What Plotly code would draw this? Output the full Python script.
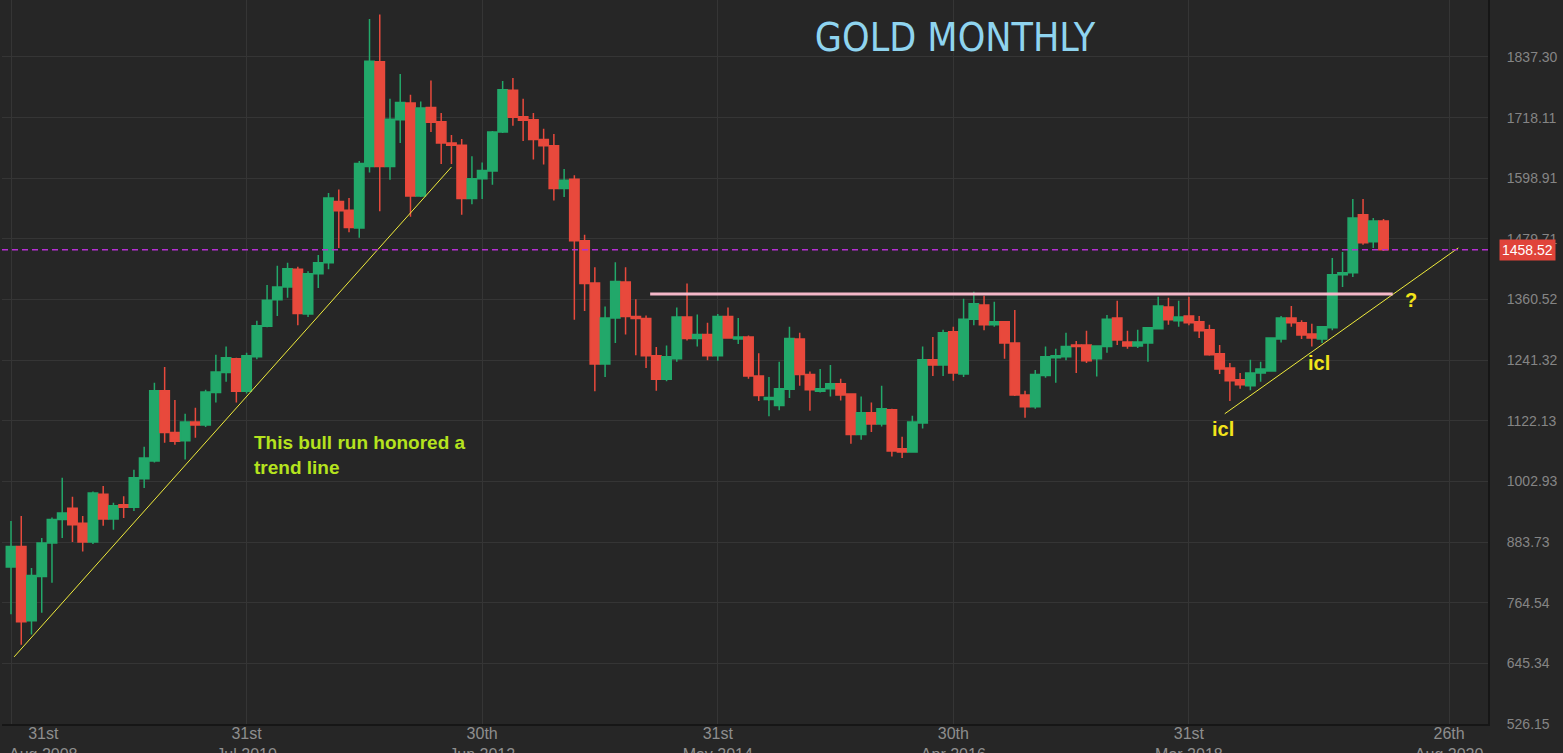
import plotly.graph_objects as go

# monthly gold candles, Sep 2008 .. Nov 2019 (one per month)
open_ = [835, 875, 729, 816, 882, 928, 950, 921, 884, 978, 929, 957, 952, 1008, 1043, 1181, 1099, 1083, 1120, 1114,
         1178, 1217, 1244, 1180, 1248, 1308, 1360, 1385, 1420, 1332, 1411, 1433, 1553, 1536, 1501, 1622, 1828, 1622, 1714, 1747,
         1564, 1738, 1710, 1668, 1664, 1559, 1598, 1613, 1690, 1772, 1720, 1714, 1675, 1663, 1579, 1597, 1476, 1393, 1234, 1324,
         1395, 1327, 1323, 1250, 1204, 1244, 1326, 1284, 1292, 1250, 1327, 1283, 1287, 1210, 1164, 1152, 1184, 1283, 1213, 1180,
         1185, 1195, 1175, 1095, 1138, 1116, 1144, 1067, 1061, 1118, 1242, 1232, 1297, 1214, 1322, 1350, 1311, 1317, 1275, 1173,
         1150, 1211, 1246, 1248, 1271, 1271, 1244, 1268, 1324, 1277, 1269, 1275, 1303, 1346, 1319, 1328, 1317, 1301, 1254, 1226,
         1203, 1191, 1216, 1220, 1283, 1324, 1315, 1293, 1283, 1305, 1409, 1413, 1527, 1474, 1515]
high = [925, 935, 833, 892, 932, 1010, 973, 935, 983, 994, 961, 974, 1026, 1071, 1197, 1228, 1163, 1136, 1148, 1183,
        1252, 1268, 1246, 1256, 1319, 1389, 1427, 1433, 1425, 1416, 1448, 1570, 1577, 1560, 1633, 1912, 1921, 1755, 1804, 1763,
        1750, 1791, 1727, 1684, 1676, 1642, 1630, 1692, 1790, 1796, 1755, 1727, 1696, 1686, 1617, 1605, 1488, 1424, 1347, 1434,
        1424, 1361, 1329, 1267, 1270, 1345, 1392, 1331, 1315, 1332, 1345, 1324, 1290, 1255, 1208, 1238, 1307, 1295, 1219, 1224,
        1232, 1205, 1176, 1170, 1158, 1191, 1146, 1091, 1132, 1268, 1287, 1301, 1307, 1362, 1376, 1368, 1356, 1318, 1340, 1181,
        1222, 1268, 1264, 1295, 1279, 1299, 1270, 1330, 1358, 1299, 1301, 1306, 1366, 1364, 1358, 1366, 1328, 1311, 1271, 1236,
        1216, 1242, 1238, 1285, 1328, 1348, 1320, 1313, 1307, 1442, 1454, 1558, 1558, 1521, 1519]
low = [742, 682, 702, 745, 804, 892, 884, 865, 880, 916, 908, 931, 945, 990, 1040, 1079, 1075, 1046, 1089, 1110,
       1158, 1199, 1158, 1176, 1243, 1306, 1328, 1364, 1310, 1326, 1383, 1420, 1462, 1493, 1482, 1610, 1534, 1596, 1668, 1523,
       1562, 1690, 1627, 1627, 1527, 1548, 1558, 1586, 1688, 1702, 1672, 1636, 1626, 1555, 1562, 1321, 1338, 1180, 1208, 1275,
       1292, 1251, 1226, 1181, 1200, 1238, 1280, 1268, 1241, 1240, 1284, 1273, 1205, 1161, 1131, 1143, 1167, 1191, 1142, 1178,
       1170, 1162, 1077, 1085, 1100, 1111, 1052, 1049, 1061, 1107, 1210, 1210, 1201, 1208, 1310, 1300, 1307, 1244, 1171, 1128,
       1146, 1207, 1197, 1241, 1216, 1236, 1209, 1256, 1271, 1264, 1265, 1238, 1302, 1311, 1307, 1310, 1285, 1250, 1214, 1161,
       1185, 1182, 1199, 1219, 1276, 1307, 1283, 1268, 1275, 1300, 1385, 1405, 1468, 1462, 1456]
close = [875, 727, 818, 882, 928, 941, 918, 884, 980, 929, 955, 952, 1010, 1049, 1181, 1099, 1082, 1120, 1114, 1179,
         1218, 1246, 1180, 1250, 1309, 1359, 1385, 1421, 1333, 1411, 1433, 1560, 1535, 1502, 1628, 1829, 1622, 1715, 1748, 1564,
         1737, 1709, 1668, 1664, 1559, 1598, 1614, 1690, 1773, 1719, 1713, 1675, 1663, 1579, 1595, 1476, 1392, 1234, 1324, 1396,
         1327, 1323, 1250, 1204, 1248, 1326, 1284, 1292, 1250, 1327, 1285, 1287, 1210, 1172, 1168, 1185, 1284, 1213, 1183, 1185,
         1195, 1173, 1095, 1138, 1116, 1146, 1063, 1061, 1120, 1242, 1232, 1295, 1216, 1322, 1352, 1311, 1317, 1275, 1173, 1150,
         1213, 1248, 1250, 1268, 1268, 1240, 1269, 1322, 1281, 1269, 1277, 1305, 1348, 1321, 1326, 1315, 1299, 1252, 1224, 1201,
         1193, 1216, 1224, 1285, 1324, 1315, 1291, 1285, 1307, 1409, 1413, 1521, 1472, 1515, 1458.52]

last_price = 1458.52

# x axis is bar-index based, like the original charting tool
tick_pos = [0, 23, 46, 69, 92, 115, 140.4]
tick_text = ["31st<br>Aug 2008", "31st<br>Jul 2010", "30th<br>Jun 2012", "31st<br>May 2014",
             "30th<br>Apr 2016", "31st<br>Mar 2018", "26th<br>Aug 2020"]
y_ticks = [526.15, 645.34, 764.54, 883.73, 1002.93, 1122.13, 1241.32, 1360.52,
           1479.71, 1598.91, 1718.11, 1837.30]

# drawn analysis lines (bar index, price)
bull_trend_x = [0.3, 43.0]
bull_trend_y = [658, 1621]
icl_trend_x = [118.5, 141.3]
icl_trend_y = [1136, 1462]
resistance_x = [62.4, 134.9]
resistance_y = [1371.6, 1371.6]

BG = "#262626"
GREEN = "#22a86a"
RED = "#e8493c"

x = list(range(len(close)))

fig = go.Figure()

fig.add_trace(go.Candlestick(
    x=x, open=open_, high=high, low=low, close=close,
    increasing=dict(line=dict(color=GREEN, width=1.5), fillcolor=GREEN),
    decreasing=dict(line=dict(color=RED, width=1.5), fillcolor=RED),
    whiskerwidth=0,
    showlegend=False,
))

fig.add_trace(go.Scatter(x=bull_trend_x, y=bull_trend_y, mode="lines",
                         line=dict(color="#f0ec3c", width=1), showlegend=False, hoverinfo="skip"))
fig.add_trace(go.Scatter(x=icl_trend_x, y=icl_trend_y, mode="lines",
                         line=dict(color="#f0ec3c", width=1), showlegend=False, hoverinfo="skip"))
fig.add_trace(go.Scatter(x=resistance_x, y=resistance_y, mode="lines",
                         line=dict(color="#f5b8c9", width=3), showlegend=False, hoverinfo="skip"))

# current price line
fig.add_shape(type="line", xref="paper", x0=0, x1=1, y0=last_price, y1=last_price,
              line=dict(color="#b52fd2", width=1.5, dash="6px,4px"))

fig.add_annotation(xref="paper", x=1, y=last_price, xanchor="left", xshift=11,
                   text="1458.52", showarrow=False, bgcolor="#e0443a", borderpad=2,
                   font=dict(family="Liberation Sans, Arial", size=14, color="white"))

fig.add_annotation(x=23.5, y=1104, xanchor="left", yanchor="top", align="left",
                   text="<b>This bull run honored a<br>trend line</b>", showarrow=False,
                   font=dict(family="Liberation Sans, Arial", size=19, color="#b5e31e"))

yellow = dict(family="Liberation Sans, Arial", size=20, color="#f2e41a")
fig.add_annotation(x=118.3, y=1106, text="<b>icl</b>", showarrow=False, font=yellow)
fig.add_annotation(x=127.7, y=1236, text="<b>icl</b>", showarrow=False, font=yellow)
fig.add_annotation(x=136.7, y=1360, text="<b>?</b>", showarrow=False, font=yellow)

# first date label sits clamped to the left edge in the original
fig.add_annotation(xref="paper", yref="paper", x=0, y=0, xanchor="left", yanchor="top",
                   xshift=5, yshift=1, text=tick_text[0], showarrow=False,
                   font=dict(family="Liberation Sans, Arial", size=16, color="#8e8e8e"))

fig.update_layout(
    width=1563, height=753,
    paper_bgcolor=BG, plot_bgcolor=BG,
    margin=dict(l=2, r=75, t=0, b=29),
    title=dict(text="GOLD MONTHLY", x=0.611, xanchor="center", y=0.951, yanchor="middle",
               font=dict(family="Liberation Sans Narrow, DejaVu Sans Condensed, Roboto Condensed, sans-serif",
                         size=39, color="#8fd4ef")),
    boxgap=0.08, boxgroupgap=0,
    showlegend=False,
)

fig.update_xaxes(
    range=[-0.88, 144.2], rangeslider_visible=False, automargin=False,
    tickvals=tick_pos, ticktext=[""] + tick_text[1:],
    tickfont=dict(family="Liberation Sans, Arial", size=16, color="#8e8e8e"),
    showgrid=True, gridcolor="#353535", gridwidth=1, zeroline=False,
    showline=True, linecolor="#161616", linewidth=2, ticks="", ticklabelstandoff=-6,
)
fig.update_yaxes(
    range=[526.15, 1949.3], side="right", automargin=False,
    tickvals=y_ticks, ticktext=[f"{v:.2f}" for v in y_ticks],
    tickfont=dict(family="Liberation Sans, Arial", size=14, color="#858585"),
    showgrid=True, gridcolor="#353535", gridwidth=1, zeroline=False,
    showline=True, linecolor="#161616", linewidth=2, ticks="", ticklabelstandoff=14,
)

# drop the page's default body margin so the figure sits at the window origin
fig.write_html("out.html", config={"displayModeBar": False},
               post_script="document.body.style.margin='0';document.body.style.background='#262626';")
